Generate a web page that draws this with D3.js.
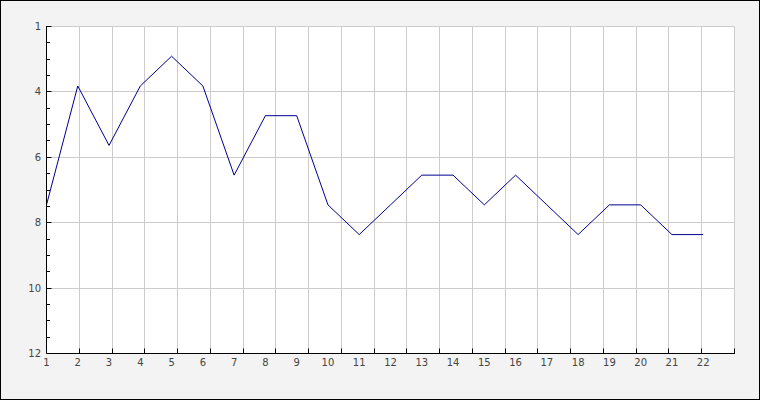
<!DOCTYPE html>
<html>
<head>
<meta charset="utf-8">
<script src="https://cdn.jsdelivr.net/npm/d3@7"></script>
<style>
  html, body { margin: 0; padding: 0; background: #f3f3f3; }
  svg { display: block; }
  text { font-family: "DejaVu Sans", sans-serif; font-size: 10px; fill: #444; }
</style>
</head>
<body>
<svg id="chart" width="760" height="400"></svg>
<script>
// Data
const categories = [1,2,3,4,5,6,7,8,9,10,11,12,13,14,15,16,17,18,19,20,21,22];
const values = [7,3,5,3,2,3,6,4,4,7,8,7,6,6,7,6,7,8,7,7,8,8];
const yTickValues = [2,4,6,8,10,12];
const yTickLabels = ["1","4","6","8","10","12"];

const W = 760, H = 400;
const plotL = 46.5, plotR = 734.5, plotT = 26.5, plotB = 353.5;

const svg = d3.select("#chart");

// background + outer border
svg.append("rect").attr("x",0.5).attr("y",0.5).attr("width",W-1).attr("height",H-1)
  .attr("fill","#f3f3f3").attr("stroke","#000").attr("stroke-width",1);

// plot area
svg.append("rect").attr("x",plotL).attr("y",plotT).attr("width",plotR-plotL).attr("height",plotB-plotT)
  .attr("fill","#fff");

// scales
const xData = d3.scaleLinear().domain([1,23]).range([plotL,plotR]);
const xGrid = d3.scaleLinear().domain([1,22]).range([plotL,plotR]);
const yData = d3.scaleLinear().domain([1,12]).range([plotT,plotB]);
const yGrid = d3.scaleLinear().domain([2,12]).range([plotT,plotB]);

const gridColor = "#cccccc";
const px = v => Math.floor(v)+0.5;

// vertical gridlines
const xGridTicks = d3.range(2,23);
svg.append("g").selectAll("line").data(xGridTicks).join("line")
  .attr("x1",d=>px(xGrid(d))).attr("x2",d=>px(xGrid(d)))
  .attr("y1",plotT).attr("y2",plotB)
  .attr("stroke",gridColor).attr("stroke-width",1);

// horizontal gridlines
svg.append("g").selectAll("line").data(yTickValues.filter(d=>d<12)).join("line")
  .attr("x1",plotL).attr("x2",plotR)
  .attr("y1",d=>px(yGrid(d))).attr("y2",d=>px(yGrid(d)))
  .attr("stroke",gridColor).attr("stroke-width",1);

// data line
const line = d3.line().x((d,i)=>xData(categories[i])).y(d=>yData(d));
svg.append("path").datum(values).attr("d",line)
  .attr("fill","none").attr("stroke","#000090").attr("stroke-width",1);

// axes lines
const yAxisX = px(plotL);
const xAxisY = px(plotB);
svg.append("line").attr("x1",yAxisX).attr("x2",yAxisX).attr("y1",px(plotT)-0.5).attr("y2",xAxisY)
  .attr("stroke","#000").attr("stroke-width",1);
svg.append("line").attr("x1",yAxisX).attr("x2",px(plotR)+0.5).attr("y1",xAxisY).attr("y2",xAxisY)
  .attr("stroke","#000").attr("stroke-width",1);

// y ticks: major + minor
const yMinor = d3.range(2,12.01,0.5);
svg.append("g").selectAll("line").data(yMinor).join("line")
  .attr("x1",yAxisX).attr("x2",d=>yAxisX + (yTickValues.includes(d)?5:3.5))
  .attr("y1",d=>px(yGrid(d))).attr("y2",d=>px(yGrid(d)))
  .attr("stroke","#000").attr("stroke-width",1);

// x ticks
svg.append("g").selectAll("line").data(xGridTicks).join("line")
  .attr("x1",d=>px(xGrid(d))).attr("x2",d=>px(xGrid(d)))
  .attr("y1",xAxisY).attr("y2",xAxisY-5)
  .attr("stroke","#000").attr("stroke-width",1);

// y labels
svg.append("g").selectAll("text").data(yTickValues).join("text")
  .attr("x",41).attr("y",d=>yGrid(d)).attr("dy","0.35em")
  .attr("text-anchor","end")
  .text((d,i)=>yTickLabels[i]);

// x labels
svg.append("g").selectAll("text").data(categories).join("text")
  .attr("x",d=>xData(d)).attr("y",362).attr("dy","0.35em")
  .attr("text-anchor","middle")
  .text(d=>String(d));
</script>
</body>
</html>
